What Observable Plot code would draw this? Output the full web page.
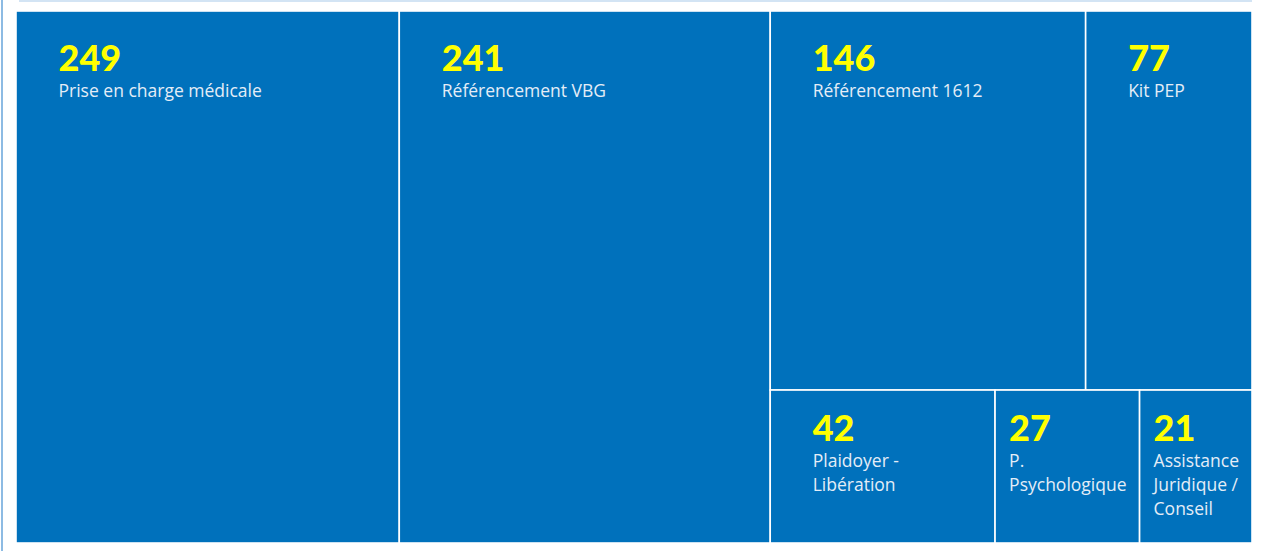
<!DOCTYPE html>
<html><head><meta charset="utf-8">
<script src="https://cdn.jsdelivr.net/npm/d3@7"></script>
<script src="https://cdn.jsdelivr.net/npm/@observablehq/plot@0.6"></script>
<style>
html,body{margin:0;padding:0;background:#fff;}
#wrap{position:relative;width:1263px;height:551px;overflow:hidden;}
.frame-top{position:absolute;left:19px;top:0;width:1233px;height:2px;background:#d3e4f4;}
.frame-left{position:absolute;left:1px;top:0;width:2px;height:551px;background:#8dbbe3;}
#chart{position:absolute;left:0;top:0;}
</style></head><body>
<div id="wrap"><div class="frame-top"></div><div class="frame-left"></div><div id="chart"></div></div>
<script>
// Data
const categories = ["Prise en charge médicale", "Référencement VBG", "Référencement 1612", "Kit PEP", "Plaidoyer -\nLibération", "P.\nPsychologique", "Assistance\nJuridique /\nConseil"];
const values = [249, 241, 146, 77, 42, 27, 21];

// Layout (in data units; scale maps 1:1 to pixels)
const W = 1236, H = 532;
const root = d3.hierarchy({children: categories.map((c, i) => ({name: c, value: values[i]}))})
  .sum(d => d.value || 0);
d3.treemap().size([W, H]).tile(d3.treemapSquarify.ratio(1.25)).round(false)(root);

const labelFont = "'Open Sans', Lato, sans-serif";
const labelSize = 17.5, labelLH = 1.37;
const ctx = document.createElement("canvas").getContext("2d");
ctx.font = `${labelSize}px 'Open Sans'`;
const leaves = root.leaves().map(d => {
  const w = d.x1 - d.x0, h = d.y1 - d.y0;
  const textW = Math.max(...d.data.name.split("\n").map(s => ctx.measureText(s).width));
  const padX = Math.min(42, Math.max(8, (w - textW) / 2));
  const base = Math.min(59, h * 0.33);
  const numY = d.y0 + base;
  return {
    name: d.data.name, value: d.data.value,
    x0: d.x0, x1: d.x1, y0: d.y0, y1: d.y1,
    tx: d.x0 + padX, numY,
    labY: numY + 26 - 0.71 * labelLH * labelSize
  };
});

const chart = Plot.plot({
  width: 1263, height: 551,
  marginLeft: 16, marginRight: 11, marginTop: 11, marginBottom: 8,
  x: {domain: [0, W], axis: null},
  y: {domain: [0, H], reverse: true, axis: null},
  style: {fontFamily: "Lato, 'Open Sans', sans-serif", background: "transparent"},
  marks: [
    Plot.rect(leaves, {x1: "x0", x2: "x1", y1: "y0", y2: "y1", fill: "#0071bc", stroke: "#ffffff", strokeWidth: 1.6}),
    Plot.text(leaves, {x: "tx", y: "numY", text: d => String(d.value), textAnchor: "start", lineAnchor: "bottom",
      fill: "#ffff00", fontSize: 36, fontWeight: 900, fontFamily: "Lato, sans-serif"}),
    Plot.text(leaves, {x: "tx", y: "labY", text: "name", textAnchor: "start", lineAnchor: "top",
      fill: "#e4edf7", fontSize: labelSize, lineHeight: labelLH, fontFamily: labelFont})
  ]
});
document.getElementById("chart").append(chart);
</script>
</body></html>
